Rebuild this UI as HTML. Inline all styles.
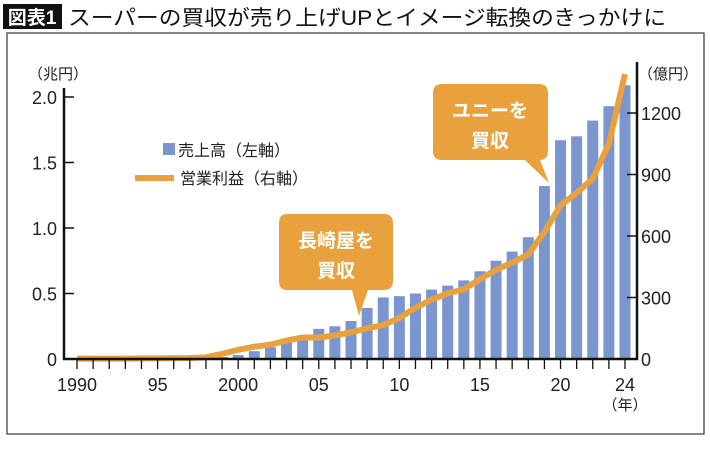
<!DOCTYPE html>
<html><head><meta charset="utf-8"><style>
body{margin:0;width:710px;height:450px;background:#fff;overflow:hidden;font-family:"Liberation Sans","Noto Sans CJK JP",sans-serif}
svg{display:block}
</style></head><body>
<svg id="c" width="710" height="450" font-family="'Liberation Sans','Noto Sans CJK JP',sans-serif">
<rect x="3" y="4" width="59" height="25" fill="#111"/>
<text x="32" y="24" font-size="19" font-weight="bold" fill="#fff" text-anchor="middle">図表1</text>
<text x="68" y="25" font-size="21" fill="#111" textLength="598" lengthAdjust="spacingAndGlyphs">スーパーの買収が売り上げUPとイメージ転換のきっかけに</text>
<rect x="7" y="33" width="697" height="401" fill="none" stroke="#333" stroke-width="1.2"/>
<text x="58" y="79" font-size="15" text-anchor="middle" fill="#222">（兆円）</text>
<text x="668" y="79" font-size="15" text-anchor="middle" fill="#222">（億円）</text>
<text x="625" y="410" font-size="15" text-anchor="middle" fill="#222">（年）</text>
<g id="bars"></g><g id="line"></g><g id="axes"></g>
<g>
<rect x="163" y="143" width="12" height="12" fill="#7b96cf"/>
<text x="178" y="156" font-size="16" fill="#222">売上高（左軸）</text>
<line x1="135" y1="178" x2="174" y2="178" stroke="#e8a13c" stroke-width="6"/>
<text x="180" y="184" font-size="16" fill="#222">営業利益（右軸）</text>
</g>
<g>
<path d="M287,214 H384 Q393,214 393,223 V281 Q393,290 384,290 H368 L359,316 L352,290 H287 Q279,290 279,281 V223 Q279,214 287,214Z" fill="#e8a13c"/>
<text x="336" y="247" font-size="19" font-weight="bold" fill="#fff" text-anchor="middle">長崎屋を</text>
<text x="336" y="277" font-size="19" font-weight="bold" fill="#fff" text-anchor="middle">買収</text>
</g>
<g>
<path d="M442,84 H539 Q548,84 548,93 V151 Q548,160 539,160 H540 L549,183 L525,160 H442 Q433,160 433,151 V93 Q433,84 442,84Z" fill="#e8a13c"/>
<text x="490" y="117" font-size="19" font-weight="bold" fill="#fff" text-anchor="middle">ユニーを</text>
<text x="490" y="147" font-size="19" font-weight="bold" fill="#fff" text-anchor="middle">買収</text>
</g>
</svg>
<script>
const years=[1990,1991,1992,1993,1994,1995,1996,1997,1998,1999,2000,2001,2002,2003,2004,2005,2006,2007,2008,2009,2010,2011,2012,2013,2014,2015,2016,2017,2018,2019,2020,2021,2022,2023,2024];
const sales=[0.003,0.004,0.005,0.006,0.007,0.008,0.009,0.01,0.012,0.015,0.03,0.06,0.09,0.13,0.18,0.23,0.25,0.29,0.39,0.47,0.48,0.5,0.53,0.56,0.6,0.67,0.75,0.82,0.93,1.32,1.67,1.7,1.82,1.93,2.09];
const profit=[2,2,2,2,3,3,4,5,8,25,45,60,70,90,105,105,115,130,150,165,200,250,290,320,340,390,435,470,510,620,750,810,880,1050,1390];
const leftTicks=[0,0.5,1.0,1.5,2.0];
const leftTickLabels=["0","0.5","1.0","1.5","2.0"];
const rightTicks=[0,300,600,900,1200];
const xLabelYears=[1990,1995,2000,2005,2010,2015,2020,2024];
const xLabelText=["1990","95","2000","05","10","15","20","24"];
const NS="http://www.w3.org/2000/svg";
const X0=77,X1=625,B=359,L=64,R=637;
const x=y=>X0+(y-years[0])*(X1-X0)/(years[years.length-1]-years[0]);
const yL=v=>B-v*(B-97)/2.0;
const yR=v=>B-v*(B-113)/1200;
function mk(t,a,p){const e=document.createElementNS(NS,t);for(const k in a)e.setAttribute(k,a[k]);p.appendChild(e);return e;}
const bars=document.getElementById('bars');
years.forEach((yr,i)=>{const e=mk('rect',{x:x(yr)-5.5,y:yL(sales[i]),width:11,height:B-yL(sales[i]),fill:'#7b96cf'},bars);

});
const lg=document.getElementById('line');
const pl=mk('polyline',{points:years.map((yr,i)=>x(yr)+','+yR(profit[i])).join(' '),fill:'none',stroke:'#e8a13c','stroke-width':6,'stroke-linejoin':'round'},lg);


const ax=document.getElementById('axes');
const a1=mk('path',{d:`M${L},88 V${B} H${R} V62`,fill:'none',stroke:'#111','stroke-width':2.5},ax);


leftTicks.forEach((v,i)=>{mk('line',{x1:L,x2:L+10,y1:yL(v),y2:yL(v),stroke:'#111','stroke-width':1.5},ax);
const t=mk('text',{x:57,y:yL(v)+7,'font-size':18,'text-anchor':'end',fill:'#222'},ax);t.textContent=leftTickLabels[i];

});
rightTicks.forEach(v=>{mk('line',{x1:R-10,x2:R,y1:yR(v),y2:yR(v),stroke:'#111','stroke-width':1.5},ax);
const t=mk('text',{x:641,y:yR(v)+7,'font-size':18,fill:'#222'},ax);t.textContent=String(v);

});
years.forEach(yr=>mk('line',{x1:x(yr),x2:x(yr),y1:B,y2:B+10,stroke:'#111','stroke-width':1.3},ax));
xLabelYears.forEach((yr,i)=>{const t=mk('text',{x:x(yr),y:391,'font-size':18,'text-anchor':'middle',fill:'#222'},ax);t.textContent=xLabelText[i];

});
</script>
</body></html>
